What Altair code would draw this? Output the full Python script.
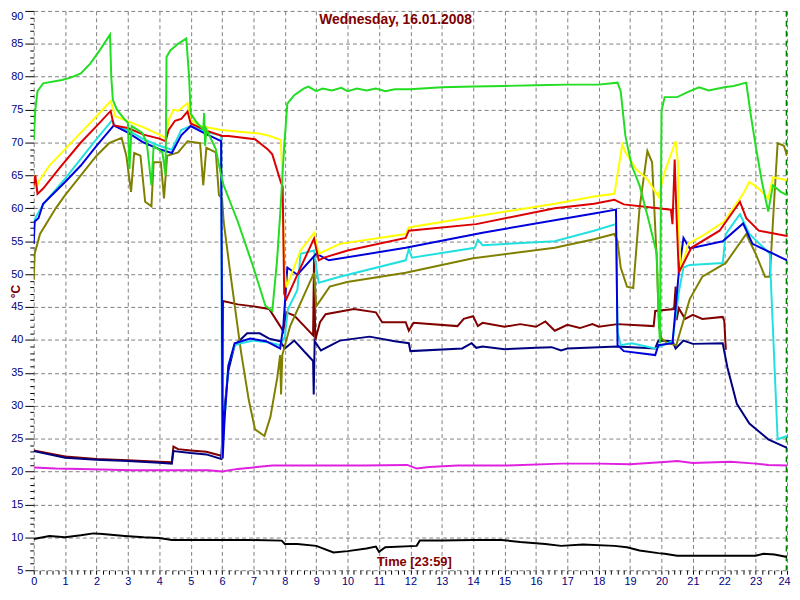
import altair as alt
import pandas as pd

# ---------------- data (hour of day, temperature °C) ----------------
green_h = [0.0, 0.05, 0.12, 0.3, 0.9, 1.2, 1.5, 1.8, 2.1, 2.43, 2.47, 2.52, 2.65, 2.9, 3.0, 3.05, 3.12, 3.45, 3.6, 3.75, 3.82, 4.1, 4.2, 4.23, 4.35, 4.6, 4.86, 4.95, 5.0, 5.2, 5.4, 5.43, 5.46, 5.5, 5.8, 5.97, 6.05, 6.5, 7.0, 7.38, 7.6, 7.75, 7.85, 7.98, 8.08, 8.3, 8.6, 8.75, 9.0, 9.2, 9.5, 9.8, 10.0, 10.3, 10.6, 10.9, 11.2, 11.5, 12.0, 13.0, 14.0, 15.0, 16.0, 17.0, 18.0, 18.6, 18.7, 18.85, 19.05, 19.3, 19.6, 19.85, 19.9, 19.95, 20.0, 20.1, 20.5, 20.9, 21.2, 21.5, 22.0, 22.3, 22.7, 22.85, 23.0, 23.2, 23.4, 23.55, 23.8, 24.0]
green_v = [70.4, 75.0, 77.8, 79.0, 79.5, 79.9, 80.5, 82.0, 84.0, 86.4, 80.0, 76.5, 75.0, 73.5, 73.0, 66.0, 72.5, 71.5, 70.0, 63.5, 69.5, 68.5, 65.0, 83.0, 84.0, 85.0, 85.8, 80.0, 74.4, 73.0, 72.0, 74.5, 69.5, 72.0, 69.0, 65.0, 63.5, 58.0, 51.0, 45.2, 44.4, 52.0, 59.0, 69.5, 75.9, 77.2, 78.2, 78.5, 77.8, 78.2, 77.9, 78.3, 77.8, 78.2, 77.9, 78.2, 77.8, 78.1, 78.1, 78.4, 78.5, 78.6, 78.7, 78.8, 78.8, 79.1, 77.8, 71.0, 66.5, 63.5, 58.0, 53.1, 45.0, 39.5, 74.8, 76.9, 76.9, 77.8, 78.4, 77.9, 78.4, 78.6, 79.1, 74.0, 69.5, 64.0, 59.5, 63.5, 62.5, 62.0]

yellow_h = [0.0, 0.08, 0.15, 0.5, 1.0, 1.5, 2.0, 2.45, 2.6, 2.9, 3.5, 4.0, 4.2, 4.3, 4.45, 4.6, 4.9, 5.0, 5.3, 5.97, 7.13, 7.45, 7.87, 7.92, 7.97, 8.05, 8.5, 8.93, 9.08, 9.75, 11.85, 11.95, 14.1, 16.6, 17.85, 18.5, 18.75, 18.85, 19.2, 19.55, 19.9, 20.1, 20.45, 20.52, 20.55, 20.62, 20.85, 21.4, 22.0, 22.6, 22.8, 23.1, 23.4, 23.55, 24.0]
yellow_v = [65.0, 63.0, 64.0, 66.5, 69.0, 71.5, 74.0, 76.3, 74.0, 73.4, 72.3, 71.2, 70.7, 73.4, 75.0, 74.8, 76.0, 73.4, 72.5, 71.9, 71.4, 71.1, 70.4, 65.0, 52.0, 48.0, 53.6, 56.3, 53.1, 54.6, 56.1, 57.1, 58.8, 60.7, 61.8, 62.2, 69.7, 68.5, 65.9, 64.4, 61.8, 65.5, 70.2, 67.0, 56.1, 50.6, 54.6, 56.1, 58.0, 62.2, 64.0, 63.0, 61.5, 64.7, 64.3]

red_h = [0.0, 0.05, 0.12, 0.3, 0.8, 1.5, 2.0, 2.45, 2.55, 3.0, 3.5, 4.0, 4.2, 4.3, 4.5, 4.7, 4.9, 5.0, 5.5, 6.0, 6.2, 7.05, 7.45, 7.6, 7.87, 7.93, 7.98, 8.05, 8.5, 8.93, 9.08, 9.25, 10.0, 11.85, 11.95, 14.1, 16.6, 17.85, 18.5, 18.8, 20.3, 20.35, 20.42, 20.47, 20.55, 20.95, 21.85, 22.5, 22.7, 23.1, 24.0]
red_v = [63.5, 65.0, 62.2, 63.0, 66.0, 70.0, 72.5, 74.8, 72.6, 72.2, 71.2, 70.6, 70.2, 71.9, 73.3, 73.6, 74.7, 72.9, 71.8, 71.0, 71.0, 70.5, 69.0, 68.2, 64.0, 63.3, 47.0, 46.2, 51.0, 55.4, 52.1, 52.5, 53.6, 55.5, 56.6, 57.6, 60.0, 60.7, 61.3, 60.6, 59.8, 57.6, 67.4, 60.0, 50.2, 54.0, 56.6, 61.0, 58.5, 56.6, 55.8]

cyan_h = [0.0, 0.05, 0.3, 1.0, 1.5, 2.0, 2.5, 2.6, 3.0, 3.5, 4.0, 4.4, 4.7, 5.0, 5.5, 5.97, 6.0, 6.05, 6.2, 6.4, 6.6, 7.0, 7.5, 7.85, 8.0, 8.1, 8.4, 8.5, 8.93, 9.0, 9.08, 9.75, 11.85, 11.95, 12.05, 14.05, 14.15, 14.3, 16.6, 17.85, 18.55, 18.6, 18.7, 19.05, 19.8, 20.35, 20.55, 20.7, 20.9, 21.95, 22.05, 22.5, 22.8, 23.45, 23.5, 23.7, 24.0]
cyan_v = [57.0, 58.5, 60.6, 64.5, 67.5, 70.5, 73.4, 72.5, 71.9, 70.5, 69.5, 68.9, 71.9, 72.5, 71.6, 71.1, 22.0, 26.0, 36.2, 39.2, 39.5, 39.9, 39.6, 39.2, 40.5, 44.7, 47.6, 53.1, 53.6, 51.0, 48.7, 49.6, 52.1, 53.8, 52.5, 54.0, 55.2, 54.4, 55.0, 56.6, 57.6, 41.3, 39.2, 39.5, 38.7, 39.8, 47.2, 51.0, 51.4, 51.7, 56.1, 59.1, 56.1, 53.1, 47.2, 24.9, 25.4]

blue_h = [0.0, 0.03, 0.15, 0.3, 1.0, 1.5, 2.0, 2.55, 3.0, 3.5, 4.0, 4.4, 4.7, 5.0, 5.4, 5.97, 6.02, 6.08, 6.2, 6.4, 6.9, 7.4, 7.85, 7.95, 8.08, 8.4, 9.0, 9.4, 11.85, 14.3, 17.85, 18.55, 18.6, 18.8, 19.8, 19.9, 20.35, 20.55, 20.7, 20.9, 21.95, 22.6, 22.9, 24.0]
blue_v = [54.6, 58.0, 58.5, 60.7, 64.0, 66.5, 69.5, 72.6, 71.5, 70.0, 69.0, 68.4, 71.1, 72.5, 71.5, 70.2, 22.0, 28.0, 36.0, 39.5, 40.2, 39.8, 38.7, 42.0, 51.0, 49.9, 53.1, 52.1, 54.0, 56.3, 59.2, 59.8, 39.2, 38.3, 37.7, 39.2, 39.5, 50.2, 55.5, 53.9, 55.0, 57.7, 54.6, 52.1]

olive_h = [0.0, 0.03, 0.2, 0.7, 1.0, 1.5, 2.0, 2.4, 2.8, 2.95, 3.1, 3.2, 3.4, 3.55, 3.75, 3.82, 4.05, 4.15, 4.25, 4.4, 4.6, 4.9, 5.3, 5.4, 5.5, 5.8, 5.9, 6.0, 6.05, 6.25, 6.6, 6.85, 7.05, 7.35, 7.54, 7.76, 7.85, 7.88, 7.92, 8.17, 8.93, 9.0, 9.43, 9.98, 11.85, 14.0, 16.6, 17.85, 18.5, 18.6, 18.7, 18.9, 19.1, 19.3, 19.55, 19.7, 19.85, 19.92, 20.0, 20.2, 20.47, 20.9, 21.3, 22.05, 22.7, 23.0, 23.3, 23.45, 23.6, 23.7, 23.9, 24.0]
olive_v = [49.1, 53.1, 56.1, 60.0, 62.0, 65.0, 68.0, 69.9, 70.7, 68.0, 62.5, 68.4, 68.0, 61.0, 60.3, 67.0, 67.0, 61.5, 68.0, 68.2, 68.5, 70.2, 69.9, 63.5, 69.2, 68.5, 62.0, 61.5, 58.0, 50.6, 38.3, 30.9, 26.4, 25.4, 28.3, 34.3, 37.7, 31.7, 37.7, 42.1, 50.2, 45.1, 48.1, 48.8, 50.2, 52.4, 54.0, 55.3, 56.1, 55.0, 51.0, 48.1, 47.9, 60.0, 68.7, 67.0, 52.1, 42.1, 40.2, 39.5, 39.2, 46.2, 49.6, 51.7, 56.1, 53.1, 49.6, 49.6, 62.0, 69.9, 69.5, 68.0]

maroon_h = [0.0, 1.0, 2.0, 3.0, 4.0, 4.4, 4.45, 4.6, 5.0, 5.5, 5.97, 6.0, 6.03, 6.5, 7.0, 7.5, 7.85, 7.95, 8.05, 8.3, 8.9, 8.93, 8.97, 9.12, 9.3, 10.2, 10.9, 11.1, 11.85, 11.95, 12.1, 13.5, 13.7, 14.0, 14.15, 14.3, 15.0, 15.5, 16.0, 16.3, 16.6, 17.0, 17.4, 17.8, 18.0, 18.6, 19.75, 19.8, 20.4, 20.45, 20.48, 20.55, 20.75, 21.0, 21.3, 21.95, 22.0, 22.05]
maroon_v = [23.2, 22.3, 21.9, 21.7, 21.5, 21.4, 23.8, 23.4, 23.2, 23.0, 22.4, 22.2, 45.9, 45.4, 45.1, 44.7, 42.1, 41.3, 44.2, 43.7, 40.7, 52.5, 40.0, 42.7, 43.9, 44.7, 44.2, 42.7, 42.7, 41.4, 42.6, 42.1, 43.2, 43.6, 42.1, 42.6, 42.0, 42.4, 42.0, 42.8, 41.4, 42.3, 41.8, 42.4, 42.0, 42.4, 42.1, 44.4, 44.7, 48.1, 43.0, 44.8, 43.2, 43.8, 43.2, 43.5, 42.9, 38.5]

navy_h = [0.0, 1.0, 2.0, 3.0, 4.0, 4.4, 4.45, 5.0, 5.5, 5.97, 6.05, 6.2, 6.4, 6.8, 7.2, 7.5, 7.85, 8.0, 8.3, 8.9, 8.92, 8.95, 9.15, 9.75, 10.7, 11.5, 11.95, 12.0, 13.65, 13.95, 14.1, 14.3, 15.0, 16.0, 16.5, 16.8, 17.0, 18.6, 19.8, 19.9, 20.35, 20.45, 20.7, 21.0, 21.95, 22.1, 22.4, 22.8, 23.4, 24.0]
navy_v = [23.1, 22.1, 21.8, 21.6, 21.35, 21.2, 23.1, 22.8, 22.6, 21.9, 28.3, 35.3, 39.2, 41.0, 41.0, 40.2, 39.8, 38.7, 39.9, 36.8, 31.7, 39.8, 38.4, 39.9, 40.5, 39.8, 39.5, 38.3, 38.7, 39.5, 38.8, 39.0, 38.6, 38.8, 38.9, 38.4, 38.7, 39.0, 38.7, 39.9, 39.8, 38.7, 39.9, 39.4, 39.5, 35.8, 30.3, 27.3, 24.9, 23.6]

magenta_h = [0.0, 0.7, 1.5, 3.1, 4.5, 5.55, 6.0, 6.5, 7.6, 9.0, 10.5, 11.9, 12.2, 12.6, 13.5, 15.0, 16.8, 18.0, 19.0, 20.2, 20.5, 21.0, 22.2, 23.0, 23.4, 24.0]
magenta_v = [20.6, 20.45, 20.4, 20.2, 20.2, 20.2, 20.0, 20.4, 20.9, 20.9, 20.9, 21.0, 20.45, 20.7, 20.9, 20.9, 21.2, 21.2, 21.1, 21.5, 21.6, 21.3, 21.5, 21.2, 21.0, 20.9]

black_h = [0.0, 0.5, 1.0, 1.5, 1.9, 2.2, 2.9, 3.5, 4.0, 4.4, 5.0, 6.0, 6.8, 7.9, 8.0, 8.4, 9.0, 9.55, 10.0, 10.6, 10.9, 11.0, 11.2, 12.2, 12.3, 13.0, 14.0, 14.9, 15.5, 16.3, 16.8, 17.5, 18.5, 18.9, 19.3, 19.9, 20.1, 20.5, 22.0, 23.0, 23.25, 23.6, 24.0]
black_v = [9.75, 10.2, 10.0, 10.3, 10.6, 10.5, 10.2, 10.0, 9.9, 9.6, 9.6, 9.6, 9.6, 9.5, 9.0, 9.0, 8.7, 7.7, 7.9, 8.3, 8.6, 7.8, 8.5, 8.7, 9.5, 9.5, 9.6, 9.6, 9.3, 9.0, 8.7, 8.9, 8.7, 8.5, 8.0, 7.6, 7.5, 7.2, 7.2, 7.2, 7.5, 7.4, 7.0]

now_hour = [23.98]

x_tick_values = [round(i * 0.2, 1) for i in range(121)]   # 0 .. 24 every 12 minutes
y_tick_values = list(range(5, 91))                           # 5 .. 90 every 1 °C

series = [
    ("black", black_h, black_v, "#000000"),
    ("magenta", magenta_h, magenta_v, "#e020e0"),
    ("maroon", maroon_h, maroon_v, "#800000"),
    ("navy", navy_h, navy_v, "#000080"),
    ("olive", olive_h, olive_v, "#808000"),
    ("cyan", cyan_h, cyan_v, "#22e0e0"),
    ("blue", blue_h, blue_v, "#0000dd"),
    ("yellow", yellow_h, yellow_v, "#ffff00"),
    ("red", red_h, red_v, "#dd0000"),
    ("green", green_h, green_v, "#22dd22"),
]

# ---------------- axes ----------------
major_x = "abs(datum.value - round(datum.value)) < 0.001"
major_y = "datum.value % 5 === 0"

x_axis = alt.Axis(
    values=x_tick_values,
    labelExpr=f"{major_x} ? format(datum.value, 'd') : ''",
    labelOverlap=False,
    labelBound=False,
    labelFlush=False,
    domain=False,
    ticks=True,
    tickColor="#000000",
    tickSize=4,
    labelColor="#000080",
    labelFont="Liberation Sans",
    labelFontSize=11,
    labelPadding=1,
    labelBaseline="top",
    labelAlign={"condition": {"test": "datum.value >= 24", "value": "right"}, "value": "center"},
    labelOffset={"condition": {"test": "datum.value >= 24", "value": 3}, "value": 0},
    grid=True,
    gridColor="#808080",
    gridDash=[4, 3],
    gridWidth=1,
    gridOpacity={"condition": {"test": major_x, "value": 1}, "value": 0},
    title="Time [23:59]",
    titleColor="#800000",
    titleFont="Liberation Sans",
    titleFontSize=13,
    titleFontWeight="bold",
    titleX=384,
    titleY=-9,
    titleBaseline="middle",
    titleAlign="center",
)

y_axis = alt.Axis(
    values=y_tick_values,
    labelExpr=f"{major_y} ? format(datum.value, 'd') : ''",
    labelOverlap=False,
    labelBound=False,
    labelFlush=False,
    domain=False,
    tickColor="#000000",
    tickSize={"condition": {"test": major_y, "value": 9}, "value": 4},
    labelColor="#000080",
    labelFont="Liberation Sans",
    labelFontSize=11,
    labelPadding=2,
    labelBaseline={"condition": {"test": "datum.value === 90", "value": "top"}, "value": "middle"},
    grid=True,
    gridColor="#808080",
    gridDash=[4, 3],
    gridWidth=1,
    gridOpacity={"condition": {"test": major_y, "value": 1}, "value": 0},
    title="°C",
    titleColor="#800000",
    titleFont="Liberation Sans",
    titleFontSize=12,
    titleFontWeight="bold",
    titleX=-18,
    titleY=283,
    titleAngle=270,
    titleBaseline="middle",
    titleAlign="center",
)

X = alt.X("h:Q", scale=alt.Scale(domain=[0, 24], nice=False, zero=False), axis=x_axis)
Y = alt.Y("v:Q", scale=alt.Scale(domain=[5, 90], nice=False, zero=False), axis=y_axis)

layers = []
marker = alt.Chart(pd.DataFrame({"h": now_hour})).mark_rule(
    color="#008000", strokeDash=[6, 4], strokeWidth=1.5
).encode(x=X)
layers.append(marker)

for name, hs, vs, col in series:
    df = pd.DataFrame({"h": hs, "v": vs})
    layers.append(
        alt.Chart(df).mark_line(color=col, strokeWidth=2, clip=True).encode(x=X, y=Y)
    )

chart = alt.layer(*layers).properties(
    width=761,
    height=565,
    padding={"left": 26, "top": 0, "right": 5, "bottom": 15},
    autosize=alt.AutoSizeParams(type="none"),
    background="#ffffff",
    title=alt.TitleParams(
        text="Wednesday, 16.01.2008",
        color="#800000",
        font="Liberation Sans",
        fontSize=14,
        fontWeight="bold",
        anchor="middle",
        frame="group",
        offset=0,
        baseline="middle",
        dx=-15,
        dy=24,
    ),
).configure_view(stroke=None)

chart.save("out.html", embed_options={"renderer": "svg", "actions": False})
